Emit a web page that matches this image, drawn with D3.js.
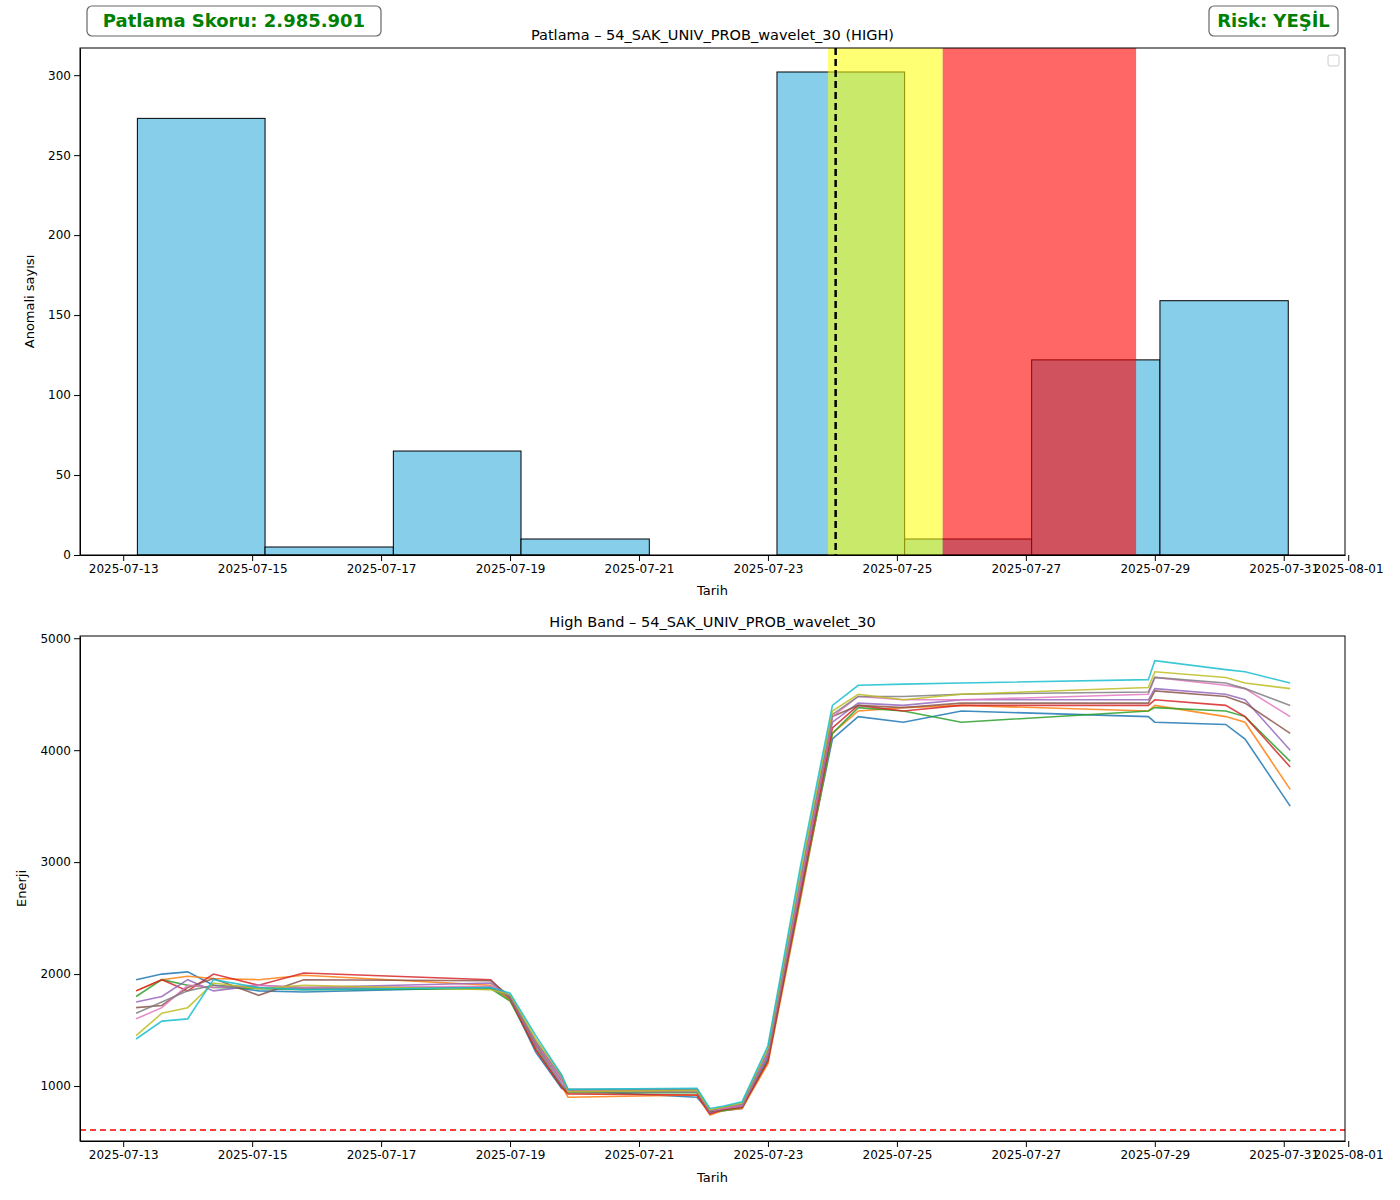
<!DOCTYPE html>
<html>
<head>
<meta charset="utf-8">
<script src="https://cdn.jsdelivr.net/npm/d3@7"></script>
<style>
  body { margin: 0; background: #fff; font-family: "DejaVu Sans", sans-serif; }
  .axis text { font-size: 12px; font-family: "DejaVu Sans", sans-serif; }
</style>
</head>
<body>
<svg id="chart" width="1400" height="1200"></svg>
<script>
// dates are expressed as day of July 2025 (fractional); 32 = 2025-08-01
const tickDays = [13, 15, 17, 19, 21, 23, 25, 27, 29, 31, 32];
const tickLabels = ["2025-07-13", "2025-07-15", "2025-07-17", "2025-07-19", "2025-07-21", "2025-07-23", "2025-07-25", "2025-07-27", "2025-07-29", "2025-07-31", "2025-08-01"];

// histogram of anomaly counts
const binStarts = [13.22, 15.20, 17.19, 19.17, 21.16, 23.14, 25.12, 27.09, 29.08];
const binEnds   = [15.20, 17.19, 19.17, 21.16, 23.14, 25.12, 27.09, 29.08, 31.07];
const binCounts = [273, 5, 65, 10, 0, 302, 10, 122, 159];

const yellowSpan = [23.93, 25.71];
const redSpan = [25.71, 28.71];
const eventDay = 24.05;
const threshold = 607;

// energy series (high band)
const seriesDays = [13.2, 13.6, 14.0, 14.4, 15.1, 15.8, 18.7, 19.0, 19.4, 19.8, 19.9, 21.9, 22.1, 22.3, 22.6, 23.0, 23.5, 24.0, 24.4, 25.1, 26.0, 28.9, 29.0, 30.1, 30.4, 31.1];
const seriesValues = [
  [1950,2000,2020,1900,1850,1840,1880,1780,1300,980,960,900,760,780,800,1250,2700,4100,4300,4250,4350,4300,4250,4230,4100,3500],
  [1850,1950,1980,1960,1950,1990,1900,1770,1350,1000,900,920,740,780,800,1200,2650,4150,4350,4380,4400,4350,4400,4300,4250,3650],
  [1800,1950,1900,1880,1870,1860,1870,1760,1330,1000,940,940,770,780,810,1230,2680,4150,4380,4350,4250,4350,4380,4350,4300,3900],
  [1850,1950,1850,2000,1900,2010,1950,1780,1320,990,930,920,750,790,810,1220,2700,4200,4400,4350,4400,4400,4450,4400,4300,3850],
  [1750,1800,1950,1850,1900,1880,1920,1790,1360,1020,950,950,760,800,820,1270,2750,4250,4420,4400,4450,4450,4550,4500,4450,4000],
  [1700,1720,1880,1960,1810,1950,1940,1800,1380,1050,960,960,770,800,830,1290,2780,4300,4400,4380,4420,4420,4530,4480,4420,4150],
  [1600,1700,1900,1880,1900,1880,1890,1810,1390,1060,960,960,780,800,830,1300,2800,4300,4480,4450,4450,4500,4650,4580,4550,4300],
  [1650,1750,1850,1900,1880,1870,1880,1800,1400,1080,970,970,780,810,840,1320,2850,4320,4480,4480,4500,4520,4650,4600,4550,4400],
  [1450,1650,1700,1920,1870,1900,1860,1820,1420,1100,950,960,790,810,850,1340,2900,4350,4500,4450,4500,4560,4700,4650,4600,4550],
  [1420,1580,1600,1950,1880,1860,1880,1830,1450,1100,970,980,800,820,860,1360,2950,4400,4580,4590,4600,4630,4800,4720,4700,4600]
];
const lineColors = d3.schemeCategory10;

const july1 = new Date(2025, 6, 1).getTime();
const toDate = d => new Date(july1 + (d - 1) * 864e5);
const svg = d3.select('#chart');

function xAxisFor(g, x, y0) {
  const ax = d3.axisBottom(x).tickValues(tickDays.map(toDate)).tickFormat((d, i) => tickLabels[i]).tickSizeOuter(0);
  g.append('g').attr('class', 'axis').attr('transform', `translate(0,${y0})`).call(ax);
}

function frame(g, l, t, r, b) {
  g.append('rect').attr('x', l).attr('y', t).attr('width', r - l).attr('height', b - t)
    .attr('fill', 'none').attr('stroke', '#000').attr('stroke-width', 1);
}

/*-- top panel --*/
const T = { l: 80, r: 1345, t: 48, b: 555 };
const xTop = d3.scaleTime().domain([toDate(12.33), toDate(31.95)]).range([T.l, T.r]);
const yTop = d3.scaleLinear().domain([0, 317]).range([T.b, T.t]);
const topPanel = svg.append('g');

topPanel.selectAll('rect.bar').data(binCounts).enter().append('rect')
  .attr('x', (d, i) => xTop(toDate(binStarts[i])))
  .attr('width', (d, i) => xTop(toDate(binEnds[i])) - xTop(toDate(binStarts[i])))
  .attr('y', d => yTop(d)).attr('height', d => yTop(0) - yTop(d))
  .attr('fill', '#87ceeb').attr('stroke', d => d > 0 ? '#000' : 'none');

topPanel.append('rect').attr('x', xTop(toDate(yellowSpan[0]))).attr('width', xTop(toDate(yellowSpan[1])) - xTop(toDate(yellowSpan[0])))
  .attr('y', T.t).attr('height', T.b - T.t).attr('fill', 'yellow').attr('opacity', 0.55);
topPanel.append('rect').attr('x', xTop(toDate(redSpan[0]))).attr('width', xTop(toDate(redSpan[1])) - xTop(toDate(redSpan[0])))
  .attr('y', T.t).attr('height', T.b - T.t).attr('fill', 'red').attr('opacity', 0.6);
topPanel.append('line').attr('x1', xTop(toDate(eventDay))).attr('x2', xTop(toDate(eventDay)))
  .attr('y1', T.t).attr('y2', T.b).attr('stroke', '#000').attr('stroke-width', 2.5).attr('stroke-dasharray', '7,4');

topPanel.append('g').attr('class', 'axis').attr('transform', `translate(${T.l},0)`)
  .call(d3.axisLeft(yTop).tickValues([0, 50, 100, 150, 200, 250, 300]).tickFormat(d3.format('d')).tickSizeOuter(0));
xAxisFor(topPanel, xTop, T.b);
frame(topPanel, T.l, T.t, T.r, T.b);
topPanel.append('rect').attr('x', 1328).attr('y', 55).attr('width', 11).attr('height', 11).attr('rx', 2)
  .attr('fill', '#fff').attr('stroke', '#ccc');
topPanel.append('text').attr('x', (T.l + T.r) / 2).attr('y', 40).attr('text-anchor', 'middle')
  .style('font-size', '14.5px').text('Patlama – 54_SAK_UNIV_PROB_wavelet_30 (HIGH)');
topPanel.append('text').attr('x', (T.l + T.r) / 2).attr('y', 595).attr('text-anchor', 'middle')
  .style('font-size', '13px').text('Tarih');
topPanel.append('text').attr('transform', `translate(34,${(T.t + T.b) / 2}) rotate(-90)`).attr('text-anchor', 'middle')
  .style('font-size', '13px').text('Anomali sayısı');

/*-- bottom panel --*/
const B = { l: 80, r: 1345, t: 636, b: 1141 };
const xBot = d3.scaleTime().domain([toDate(12.33), toDate(31.95)]).range([B.l, B.r]);
const yBot = d3.scaleLinear().domain([509, 5020]).range([B.b, B.t]);
const botPanel = svg.append('g');
const line = d3.line().x((d, i) => xBot(toDate(seriesDays[i]))).y(d => yBot(d));

botPanel.selectAll('path.s').data(seriesValues).enter().append('path')
  .attr('d', line).attr('fill', 'none').attr('stroke', (d, i) => lineColors[i])
  .attr('stroke-width', 1.6).attr('opacity', 0.85);
botPanel.append('line').attr('x1', B.l).attr('x2', B.r).attr('y1', yBot(threshold)).attr('y2', yBot(threshold))
  .attr('stroke', 'red').attr('stroke-width', 1.6).attr('stroke-dasharray', '6,4');

botPanel.append('g').attr('class', 'axis').attr('transform', `translate(${B.l},0)`)
  .call(d3.axisLeft(yBot).tickValues([1000, 2000, 3000, 4000, 5000]).tickFormat(d3.format('d')).tickSizeOuter(0));
xAxisFor(botPanel, xBot, B.b);
frame(botPanel, B.l, B.t, B.r, B.b);
botPanel.append('text').attr('x', (B.l + B.r) / 2).attr('y', 627).attr('text-anchor', 'middle')
  .style('font-size', '14.5px').text('High Band – 54_SAK_UNIV_PROB_wavelet_30');
botPanel.append('text').attr('x', (B.l + B.r) / 2).attr('y', 1182).attr('text-anchor', 'middle')
  .style('font-size', '13px').text('Tarih');
botPanel.append('text').attr('transform', `translate(26,${(B.t + B.b) / 2}) rotate(-90)`).attr('text-anchor', 'middle')
  .style('font-size', '13px').text('Enerji');

/*-- badges --*/
function badge(x, y, w, label) {
  svg.append('rect').attr('x', x).attr('y', y).attr('width', w).attr('height', 30).attr('rx', 5)
    .attr('fill', '#fff').attr('stroke', '#666').attr('stroke-width', 1.2);
  svg.append('text').attr('x', x + w / 2).attr('y', y + 21).attr('text-anchor', 'middle')
    .style('font-size', '18px').style('font-weight', 'bold').attr('fill', 'green').text(label);
}
badge(87, 6, 294, 'Patlama Skoru: 2.985.901');
badge(1209, 6, 129, 'Risk: YEŞİL');
</script>
</body>
</html>
